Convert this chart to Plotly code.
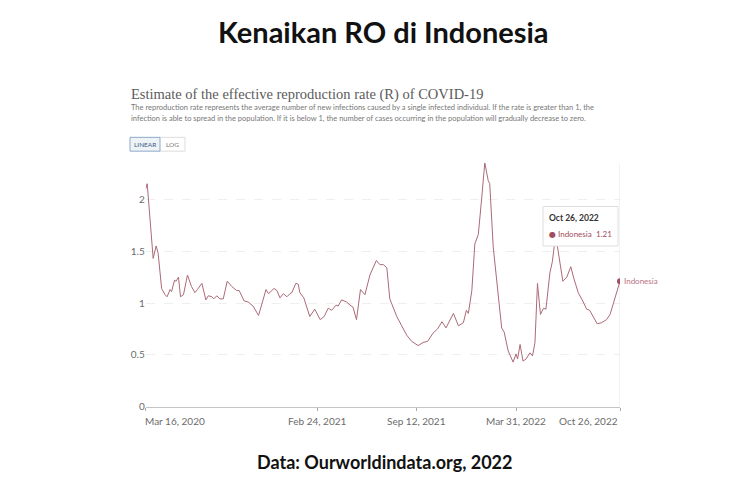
import plotly.graph_objects as go

dates = [
    "2020-03-16", "2020-03-19", "2020-03-31", "2020-04-06", "2020-04-10", "2020-04-17",
    "2020-04-24", "2020-04-28", "2020-05-04", "2020-05-07", "2020-05-13", "2020-05-16",
    "2020-05-21", "2020-05-25", "2020-05-31", "2020-06-08", "2020-06-16", "2020-06-23",
    "2020-06-28", "2020-07-07", "2020-07-15", "2020-07-20", "2020-07-27", "2020-07-31",
    "2020-08-06", "2020-08-12", "2020-08-19", "2020-08-27", "2020-09-05", "2020-09-15",
    "2020-09-20", "2020-09-30", "2020-10-08", "2020-10-18", "2020-10-29", "2020-11-13",
    "2020-11-18", "2020-11-29", "2020-12-05", "2020-12-11", "2020-12-18", "2020-12-25",
    "2020-12-31", "2021-01-04", "2021-01-12", "2021-01-17", "2021-01-20", "2021-01-28",
    "2021-02-09", "2021-02-19", "2021-03-02", "2021-03-10", "2021-03-18", "2021-03-25",
    "2021-04-03", "2021-04-07", "2021-04-14", "2021-04-24", "2021-05-01", "2021-05-07",
    "2021-05-14", "2021-05-22", "2021-05-31", "2021-06-10", "2021-06-23", "2021-06-30",
    "2021-07-07", "2021-07-14", "2021-07-20", "2021-08-03", "2021-08-13", "2021-08-23",
    "2021-09-02", "2021-09-15", "2021-09-25", "2021-10-04", "2021-10-15", "2021-10-24",
    "2021-11-02", "2021-11-10", "2021-11-25", "2021-12-05", "2021-12-15", "2021-12-21",
    "2021-12-25", "2022-01-01", "2022-01-07", "2022-01-14", "2022-01-21", "2022-01-27",
    "2022-02-03", "2022-02-06", "2022-02-13", "2022-02-23", "2022-03-02", "2022-03-07",
    "2022-03-15", "2022-03-25", "2022-03-31", "2022-04-03", "2022-04-08", "2022-04-14",
    "2022-04-20", "2022-04-28", "2022-05-03", "2022-05-08", "2022-05-13", "2022-05-19",
    "2022-05-25", "2022-05-30", "2022-06-07", "2022-06-12", "2022-06-17", "2022-06-22",
    "2022-07-03", "2022-07-11", "2022-07-19", "2022-07-25", "2022-08-03", "2022-08-12",
    "2022-08-20", "2022-08-26", "2022-09-02", "2022-09-10", "2022-09-19", "2022-09-29",
    "2022-10-06", "2022-10-16", "2022-10-26",
]

r_values = [
    2.10, 2.15, 1.43, 1.55, 1.48, 1.14,
    1.08, 1.06, 1.13, 1.11, 1.22, 1.21,
    1.25, 1.06, 1.08, 1.27, 1.16, 1.10,
    1.13, 1.19, 1.03, 1.07, 1.06, 1.04,
    1.07, 1.04, 1.04, 1.21, 1.16, 1.12,
    1.12, 1.02, 1.01, 0.97, 0.88, 1.13,
    1.09, 1.14, 1.12, 1.05, 1.09, 1.06,
    1.09, 1.10, 1.19, 1.18, 1.10, 1.05,
    0.87, 0.94, 0.84, 0.87, 0.95, 0.93,
    0.98, 0.97, 1.03, 1.01, 0.98, 0.96,
    0.84, 1.13, 1.08, 1.27, 1.41, 1.37,
    1.37, 1.34, 1.04, 0.87, 0.78, 0.69,
    0.63, 0.59, 0.62, 0.63, 0.71, 0.75,
    0.82, 0.76, 0.90, 0.78, 0.81, 0.93,
    0.90, 1.12, 1.57, 1.66, 2.02, 2.35,
    2.18, 2.15, 1.54, 1.06, 0.76, 0.72,
    0.54, 0.43, 0.51, 0.46, 0.60, 0.44,
    0.46, 0.52, 0.49, 0.62, 1.19, 0.89,
    0.95, 0.94, 1.29, 1.40, 1.60, 1.55,
    1.21, 1.25, 1.35, 1.24, 1.10, 1.02,
    0.94, 0.93, 0.87, 0.80, 0.81, 0.84,
    0.89, 1.05, 1.21,
]

x_tick_dates = ["2020-03-16", "2021-02-24", "2021-09-12", "2022-03-31", "2022-10-26"]
x_tick_labels = ["Mar 16, 2020", "Feb 24, 2021", "Sep 12, 2021", "Mar 31, 2022", "Oct 26, 2022"]
y_tick_vals = [0, 0.5, 1, 1.5, 2]
y_tick_labels = ["0", "0.5", "1", "1.5", "2"]

country = "Indonesia"
last_date = dates[-1]
last_value = r_values[-1]

LINE = "#ab6a77"
DOT = "#a04e5e"
GRAY = "#6b6b6b"

fig = go.Figure()

# hover guide line at last date
fig.add_trace(go.Scatter(
    x=[last_date, last_date], y=[0, 2.35], mode="lines",
    line=dict(color="#e6e6e6", width=1), hoverinfo="skip", showlegend=False,
))

fig.add_trace(go.Scatter(
    x=dates, y=r_values, mode="lines",
    line=dict(color=LINE, width=1), showlegend=False, name=country,
))

fig.add_trace(go.Scatter(
    x=[last_date], y=[last_value], mode="markers",
    marker=dict(color=DOT, size=6), showlegend=False, hoverinfo="skip",
))

annotations = []

# end label
annotations.append(dict(
    x=last_date, y=last_value, xref="x", yref="y", text=country,
    showarrow=False, xanchor="left", yanchor="middle", xshift=2,
    font=dict(family="Lato", size=8, color="#b7747f"),
))

# x tick labels (OWID style: first left aligned, last right aligned)
anchors = ["left", "center", "center", "center", "right"]
for d, lab, anc in zip(x_tick_dates, x_tick_labels, anchors):
    annotations.append(dict(
        x=d, y=0, xref="x", yref="y", text=lab, showarrow=False,
        xanchor=anc, yanchor="top", yshift=-6, xshift=-3 if anc == "left" else 0,
        font=dict(family="Lato", size=10, color=GRAY),
    ))

# tooltip
annotations.append(dict(
    x=547 / 750, y=1 - 221 / 500, xref="paper", yref="paper",
    text="<b>Oct 26, 2022</b>", showarrow=False, xanchor="left", yanchor="middle",
    font=dict(family="Lato", size=8.5, color="#333333"),
))
annotations.append(dict(
    x=547 / 750, y=1 - 237 / 500, xref="paper", yref="paper",
    text="\u25CF", showarrow=False, xanchor="left", yanchor="middle",
    font=dict(family="DejaVu Sans", size=8, color=DOT),
))
annotations.append(dict(
    x=556 / 750, y=1 - 237 / 500, xref="paper", yref="paper",
    text=country, showarrow=False, xanchor="left", yanchor="middle",
    font=dict(family="Lato", size=8, color=DOT),
))
annotations.append(dict(
    x=614 / 750, y=1 - 237 / 500, xref="paper", yref="paper",
    text=f"{last_value:.2f}", showarrow=False, xanchor="right", yanchor="middle",
    font=dict(family="Lato", size=8, color=DOT),
))

# headings
annotations.append(dict(
    x=383 / 750, y=1 - 32 / 500, xref="paper", yref="paper",
    text="<b>Kenaikan RO di Indonesia</b>", showarrow=False,
    xanchor="center", yanchor="middle",
    font=dict(family="Lato", size=29, color="#111111"),
))
annotations.append(dict(
    x=129 / 750, y=1 - 96 / 500, xref="paper", yref="paper",
    text="Estimate of the effective reproduction rate (R) of COVID-19",
    showarrow=False, xanchor="left", yanchor="middle",
    font=dict(family="Liberation Serif", size=14.5, color="#5b5b5b"),
))
annotations.append(dict(
    x=129 / 750, y=1 - 109 / 500, xref="paper", yref="paper",
    text="The reproduction rate represents the average number of new infections caused by a single infected individual. If the rate is greater than 1, the",
    showarrow=False, xanchor="left", yanchor="middle",
    font=dict(family="Lato", size=7.5, color="#777777"),
))
annotations.append(dict(
    x=129 / 750, y=1 - 120 / 500, xref="paper", yref="paper",
    text="infection is able to spread in the population. If it is below 1, the number of cases occurring in the population will gradually decrease to zero.",
    showarrow=False, xanchor="left", yanchor="middle",
    font=dict(family="Lato", size=7.5, color="#777777"),
))
annotations.append(dict(
    x=145 / 750, y=1 - 146 / 500, xref="paper", yref="paper",
    text="LINEAR", showarrow=False, xanchor="center", yanchor="middle",
    font=dict(family="Lato", size=6.5, color="#3d5a80"),
))
annotations.append(dict(
    x=172 / 750, y=1 - 146 / 500, xref="paper", yref="paper",
    text="LOG", showarrow=False, xanchor="center", yanchor="middle",
    font=dict(family="Lato", size=6.5, color="#777777"),
))
annotations.append(dict(
    x=385 / 750, y=1 - 468 / 500, xref="paper", yref="paper",
    text="<b>Data: Ourworldindata.org, 2022</b>", showarrow=False,
    xanchor="center", yanchor="middle",
    font=dict(family="Lato", size=18, color="#111111"),
))

shapes = [
    # tooltip box
    dict(type="rect", xref="paper", yref="paper",
         x0=543 / 750, x1=618 / 750, y0=1 - 249 / 500, y1=1 - 209 / 500,
         line=dict(color="#dedede", width=1), fillcolor="white", layer="above"),
    # LOG button
    dict(type="rect", xref="paper", yref="paper",
         x0=159 / 750, x1=185 / 750, y0=1 - 153 / 500, y1=1 - 139 / 500,
         line=dict(color="#dddddd", width=1), fillcolor="white"),
    # LINEAR button
    dict(type="rect", xref="paper", yref="paper",
         x0=130 / 750, x1=160 / 750, y0=1 - 153 / 500, y1=1 - 139 / 500,
         line=dict(color="#8fa9c8", width=1), fillcolor="#eef3f8"),
]

fig.update_layout(
    width=750, height=500,
    margin=dict(l=0, r=0, t=0, b=0),
    paper_bgcolor="white", plot_bgcolor="white",
    annotations=annotations, shapes=shapes,
    xaxis=dict(
        domain=[145.7 / 750, 620 / 750],
        range=["2020-03-16", "2022-10-26"],
        type="date",
        tickvals=x_tick_dates, ticktext=[""] * len(x_tick_dates),
        ticks="outside", ticklen=3, tickcolor="#aaaaaa",
        showgrid=False, zeroline=False,
        showline=True, linecolor="#c4c4c4", linewidth=1,
    ),
    yaxis=dict(
        domain=[(500 - 411.7) / 500, (500 - 159.7) / 500],
        range=[0, 2.4],
        tickvals=y_tick_vals, ticktext=y_tick_labels,
        tickfont=dict(family="Lato", size=10, color=GRAY),
        showgrid=True, gridcolor="#efefef", griddash="dash", gridwidth=1,
        zeroline=False, showline=False, ticks="",
    ),
)

fig.write_html("out.html")
